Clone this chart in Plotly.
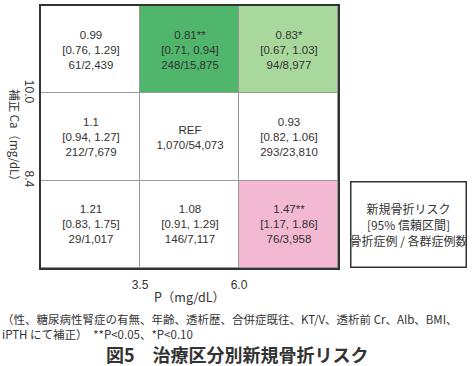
import plotly.graph_objects as go

# Data
p_ticks = ["3.5", "6.0"]          # P (mg/dL) boundaries
ca_ticks = ["8.4", "10.0"]        # corrected Ca (mg/dL) boundaries
# rows from bottom (Ca<8.4) to top (Ca>10.0); columns P<3.5, 3.5-6.0, >6.0
hr_text = [
    ["1.21", "1.08", "1.47**"],
    ["1.1", "REF", "0.93"],
    ["0.99", "0.81**", "0.83*"],
]
ci_text = [
    ["[0.83, 1.75]", "[0.91, 1.29]", "[1.17, 1.86]"],
    ["[0.94, 1.27]", "", "[0.82, 1.06]"],
    ["[0.76, 1.29]", "[0.71, 0.94]", "[0.67, 1.03]"],
]
count_text = [
    ["29/1,017", "146/7,117", "76/3,958"],
    ["212/7,679", "1,070/54,073", "293/23,810"],
    ["61/2,439", "248/15,875", "94/8,977"],
]
# category: 0 = n.s., 1 = significant decrease (P<0.05), 2 = decrease (P<0.10), 3 = significant increase
signif = [
    [0, 0, 3],
    [0, 0, 0],
    [0, 1, 2],
]

cell_text = []
for r in range(3):
    row = []
    for c in range(3):
        parts = [hr_text[r][c]]
        if ci_text[r][c]:
            parts.append(ci_text[r][c])
        parts.append(count_text[r][c])
        row.append("<br>".join(parts))
    cell_text.append(row)

colorscale = [
    [0.0, "#ffffff"], [0.25, "#ffffff"],
    [0.25, "#4fb66b"], [0.5, "#4fb66b"],
    [0.5, "#a8d89b"], [0.75, "#a8d89b"],
    [0.75, "#f3b8d2"], [1.0, "#f3b8d2"],
]

FONT = "Liberation Sans, Arial, Noto Sans CJK JP, sans-serif"
JFONT = "Noto Sans CJK JP, Liberation Sans, sans-serif"

fig = go.Figure(go.Heatmap(
    z=signif, x=[0, 1, 2], y=[0, 1, 2],
    zmin=0, zmax=3, colorscale=colorscale, showscale=False,
    xgap=1, ygap=1,
    text=cell_text, texttemplate="%{text}",
    textfont=dict(family=FONT, size=11.5, color="#333333"),
    hoverinfo="skip",
))

fig.update_layout(
    width=474, height=366,
    margin=dict(l=41, r=136, t=4, b=98),
    paper_bgcolor="white", plot_bgcolor="#999999",
    font=dict(family=FONT, color="#333333", size=11),
)
fig.update_xaxes(
    range=[-0.5, 2.5], tickvals=[0.5, 1.5], ticktext=p_ticks,
    showgrid=False, zeroline=False, showline=True, mirror=True,
    linecolor="#333333", linewidth=2, ticks="", ticklabelstandoff=5,
    tickfont=dict(size=12, family=FONT),
    title=dict(text="P（mg/dL）", font=dict(size=12.5, family=JFONT), standoff=2),
)
fig.update_yaxes(
    range=[-0.5, 2.5], tickvals=[0.5, 1.5], ticktext=ca_ticks,
    showgrid=False, zeroline=False, showline=True, mirror=True,
    linecolor="#333333", linewidth=2, ticks="", tickangle=90,
    tickfont=dict(size=12, family=FONT),
)

annotations = [
    dict(text="補正 Ca（mg/dL）", xref="paper", yref="paper", x=-0.088, y=0.496,
         xanchor="center", yanchor="middle",
         textangle=90, showarrow=False, font=dict(size=11.5, family=JFONT)),
    dict(text="新規骨折リスク<br>[95% 信頼区間]<br>骨折症例 / 各群症例数",
         xref="paper", yref="paper", x=1.2374, y=0.1648, xanchor="center", yanchor="middle",
         width=114, height=84, borderpad=0, bordercolor="#333333", borderwidth=1.5,
         bgcolor="white", showarrow=False, font=dict(size=12, family=JFONT)),
    dict(text="（性、糖尿病性腎症の有無、年齢、透析歴、合併症既往、KT/V、透析前 Cr、Alb、BMI、<br>iPTH にて補正）　**P<0.05、*P<0.10",
         xref="paper", yref="paper", x=-0.138, y=-0.155, xanchor="left", yanchor="top", align="left",
         showarrow=False, font=dict(size=11.5, family=JFONT)),
    dict(text="<b>図5　治療区分別新規骨折リスク</b>",
         xref="paper", yref="paper", x=0.66, y=-0.27, xanchor="center", yanchor="top",
         showarrow=False, font=dict(size=18, family=JFONT)),
]
fig.update_layout(annotations=annotations)

fig.write_html("out.html")
